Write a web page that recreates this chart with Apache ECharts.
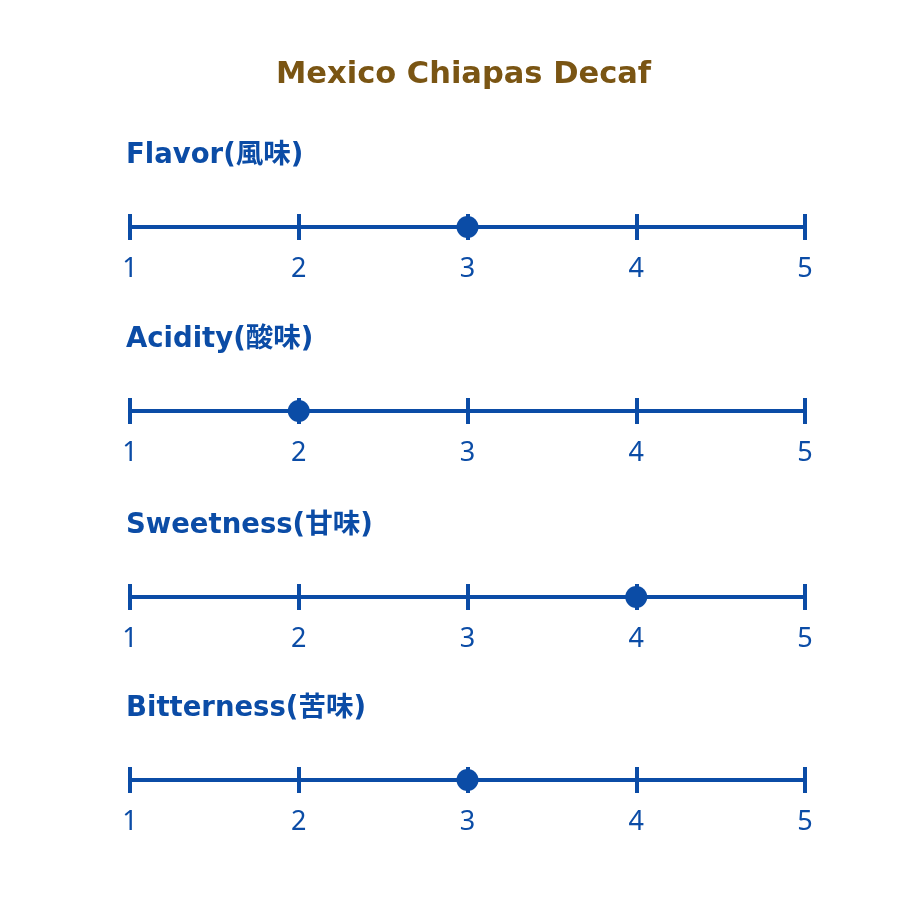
<!DOCTYPE html>
<html><head><meta charset="utf-8">
<script src="https://cdn.jsdelivr.net/npm/echarts@6/dist/echarts.min.js"></script>
<style>html,body{margin:0;padding:0;background:#fff}#c{width:920px;height:920px}</style>
</head><body><div id="c"></div>
<script>
var chartTitle = 'Mexico Chiapas Decaf';
var categories = ['Flavor(風味)', 'Acidity(酸味)', 'Sweetness(甘味)', 'Bitterness(苦味)'];
var scores = [3, 2, 4, 3];
var scaleMin = 1, scaleMax = 5;

var blue = '#0b4ca6';
var font = '"DejaVu Sans", "Noto Sans CJK JP", sans-serif';
var numFont = '"Noto Sans", sans-serif';
var lineY = [227, 411, 597, 780];
var half = 13;

var grids = [], xAxes = [], yAxes = [], series = [], titles = [];
titles.push({text: chartTitle, left: 271, top: 55,
  textStyle: {color: '#7a5513', fontSize: 30.5, fontWeight: 'bold', fontFamily: font}});
categories.forEach(function (c, i) {
  titles.push({text: c, left: 121, top: lineY[i] - 90,
    textStyle: {color: blue, fontSize: 27.5, fontWeight: 'bold', fontFamily: font}});
  grids.push({left: 130, width: 675, top: lineY[i] - half, height: half * 2});
  xAxes.push({type: 'value', gridIndex: i, min: scaleMin, max: scaleMax, interval: 1,
    axisLine: {show: true, onZero: true, lineStyle: {color: blue, width: 4}},
    axisTick: {show: false},
    splitLine: {show: true, lineStyle: {color: blue, width: 4}},
    axisLabel: {show: true, color: blue, fontSize: 27, fontFamily: numFont, margin: 16}
  });
  yAxes.push({type: 'value', gridIndex: i, min: -1, max: 1, show: false});
  series.push({type: 'scatter', xAxisIndex: i, yAxisIndex: i, symbol: 'circle', symbolSize: 22,
    itemStyle: {color: blue, opacity: 1}, data: [[scores[i], 0]], silent: true});
});
var chart = echarts.init(document.getElementById('c'), null, {renderer: 'canvas'});
chart.setOption({backgroundColor: '#fff', animation: false, title: titles,
  grid: grids, xAxis: xAxes, yAxis: yAxes, series: series});
</script></body></html>
